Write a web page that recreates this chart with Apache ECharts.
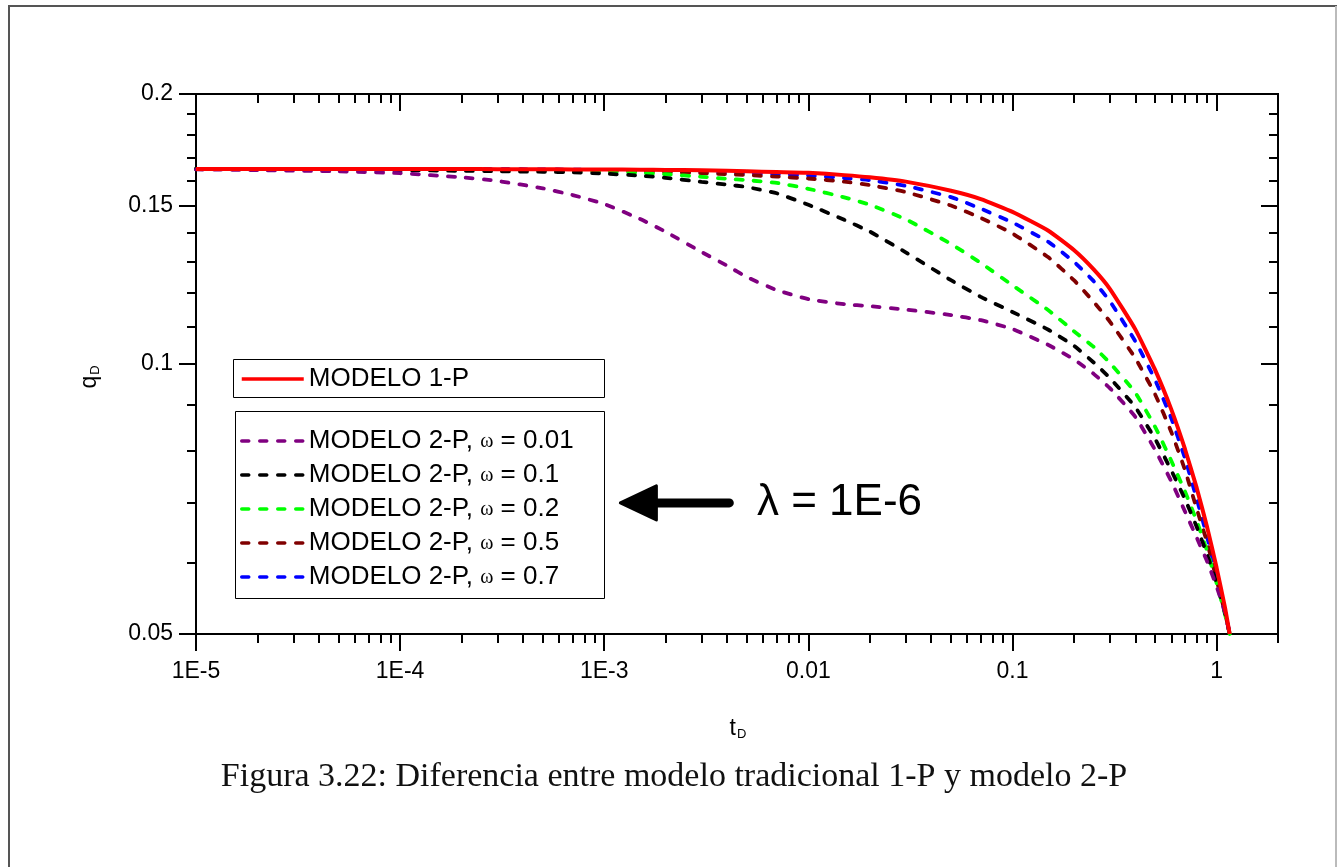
<!DOCTYPE html>
<html>
<head>
<meta charset="utf-8">
<script src="https://cdn.jsdelivr.net/npm/echarts@6/dist/echarts.min.js"></script>
<style>
html,body{margin:0;padding:0;background:#fff;overflow:hidden}
#c{width:1338px;height:867px}
</style>
</head>
<body>
<div id="c"></div>
<script>
// ---------------- data ----------------
const tValues = [1e-5, 2e-5, 5e-5, 1e-4, 2e-4, 3e-4, 5e-4, 7e-4, 1e-3, 1.5e-3, 2e-3, 3e-3, 4e-3, 5e-3, 7e-3,
  0.01, 0.015, 0.02, 0.03, 0.05, 0.07, 0.1, 0.15, 0.2, 0.25, 0.3, 0.4, 0.5, 0.6, 0.7, 0.8, 0.9, 1.0, 1.1, 1.16];

const qModelo1P = [0.1650, 0.1650, 0.1650, 0.1650, 0.1650, 0.1649, 0.1649, 0.1648, 0.1648, 0.1647, 0.1646, 0.1644, 0.1642, 0.1640, 0.1637,
  0.1634, 0.1624, 0.1615, 0.1597, 0.1560, 0.1527, 0.1478, 0.1408, 0.1340, 0.1275, 0.1213, 0.1093, 0.0985, 0.0890, 0.0804, 0.0727, 0.0657, 0.0593, 0.0535, 0.0500];

const qOmega001 = [0.1648, 0.1645, 0.1640, 0.1632, 0.1615, 0.1600, 0.1570, 0.1543, 0.1508, 0.1451, 0.1404, 0.1333, 0.1287, 0.1250, 0.1209,
  0.1181, 0.1166, 0.1160, 0.1150, 0.1134, 0.1119, 0.1094, 0.1050, 0.1012, 0.0975, 0.0940, 0.0873, 0.0802, 0.0740, 0.0685, 0.0640, 0.0602, 0.0565, 0.0528, 0.0500];

const qOmega01 = [0.1650, 0.1649, 0.1647, 0.1645, 0.1642, 0.1640, 0.1638, 0.1636, 0.1630, 0.1622, 0.1613, 0.1596, 0.1585, 0.1575, 0.1550,
  0.1505, 0.1448, 0.1405, 0.1332, 0.1240, 0.1188, 0.1143, 0.1092, 0.1048, 0.1004, 0.0965, 0.0895, 0.0825, 0.0761, 0.0707, 0.0658, 0.0613, 0.0570, 0.0528, 0.0500];

const qOmega02 = [0.1650, 0.1650, 0.1649, 0.1648, 0.1647, 0.1646, 0.1644, 0.1642, 0.1639, 0.1633, 0.1628, 0.1617, 0.1609, 0.1603, 0.1592,
  0.1568, 0.1534, 0.1505, 0.1450, 0.1361, 0.1296, 0.1224, 0.1148, 0.1088, 0.1045, 0.1003, 0.0929, 0.0851, 0.0780, 0.0721, 0.0668, 0.0618, 0.0570, 0.0526, 0.0500];

const qOmega05 = [0.1650, 0.1650, 0.1650, 0.1649, 0.1648, 0.1647, 0.1646, 0.1645, 0.1643, 0.1640, 0.1637, 0.1632, 0.1628, 0.1624, 0.1618,
  0.1610, 0.1597, 0.1583, 0.1555, 0.1502, 0.1455, 0.1398, 0.1315, 0.1240, 0.1173, 0.1115, 0.1015, 0.0925, 0.0840, 0.0762, 0.0689, 0.0632, 0.0575, 0.0528, 0.0500];

const qOmega07 = [0.1650, 0.1650, 0.1650, 0.1650, 0.1649, 0.1649, 0.1648, 0.1647, 0.1646, 0.1644, 0.1642, 0.1638, 0.1635, 0.1632, 0.1628,
  0.1623, 0.1612, 0.1603, 0.1580, 0.1535, 0.1490, 0.1438, 0.1368, 0.1300, 0.1237, 0.1175, 0.1060, 0.0960, 0.0870, 0.0785, 0.0707, 0.0641, 0.0582, 0.0530, 0.0500];

const seriesNames = ['MODELO 1-P', 'MODELO 2-P, ω = 0.01', 'MODELO 2-P, ω = 0.1', 'MODELO 2-P, ω = 0.2', 'MODELO 2-P, ω = 0.5', 'MODELO 2-P, ω = 0.7'];

const xRange = [1e-5, 2];
const yRange = [0.05, 0.2];
const xTickValues = [1e-5, 1e-4, 1e-3, 0.01, 0.1, 1];
const xTickLabels = ['1E-5', '1E-4', '1E-3', '0.01', '0.1', '1'];
const xMinorTicks = [2e-5,3e-5,4e-5,5e-5,6e-5,7e-5,8e-5,9e-5, 2e-4,3e-4,4e-4,5e-4,6e-4,7e-4,8e-4,9e-4,
  2e-3,3e-3,4e-3,5e-3,6e-3,7e-3,8e-3,9e-3, 0.02,0.03,0.04,0.05,0.06,0.07,0.08,0.09, 0.2,0.3,0.4,0.5,0.6,0.7,0.8,0.9, 2];
const yTickValues = [0.05, 0.1, 0.15, 0.2];
const yTickLabels = ['0.05', '0.1', '0.15', '0.2'];
const yMinorTicks = [0.06, 0.07, 0.08, 0.09, 0.11, 0.12, 0.13, 0.14, 0.16, 0.17, 0.18, 0.19];

const xTitle = ['t', 'D'];
const yTitle = ['q', 'D'];
const annotationText = 'λ = 1E-6';
const captionText = 'Figura 3.22: Diferencia entre modelo tradicional 1-P y modelo 2-P';
// annotation anchor points in data space [t, q]
const arrowTip = [0.0012, 0.0700];
const arrowTail = [0.0041, 0.0700];
const annotationAt = [0.0056, 0.0700];

// ---------------- chart ----------------
const L = Math.log10;
const FONT = "'Liberation Sans', Arial, sans-serif";

function findLabel(vals, labels, v) {
  for (let i = 0; i < vals.length; i++) if (Math.abs(L(vals[i]) - v) < 1e-6) return labels[i];
  return '';
}

function makeAxis(dim, position, ticks, tickLen, inside, labelCfg) {
  const range = dim === 'x' ? xRange : yRange;
  return {
    type: 'value', gridIndex: 0, position: position,
    min: L(range[0]), max: L(range[1]),
    axisLine: { show: true, onZero: false, lineStyle: { color: '#000', width: 2 } },
    axisTick: { show: true, inside: inside, length: tickLen, customValues: ticks.map(L),
      lineStyle: { color: '#000', width: 2 } },
    axisLabel: labelCfg || { show: false },
    splitLine: { show: false }, minorTick: { show: false }, minorSplitLine: { show: false },
    axisPointer: { show: false }, silent: true
  };
}

const xAxes = [
  makeAxis('x', 'bottom', xTickValues, 17, false, {
    show: true, customValues: xTickValues.map(L), margin: 26,
    formatter: v => findLabel(xTickValues, xTickLabels, v),
    fontSize: 23, fontFamily: FONT, color: '#000'
  }),
  makeAxis('x', 'bottom', xMinorTicks, 9, false),
  makeAxis('x', 'top', xTickValues, 17, true),
  makeAxis('x', 'top', xMinorTicks, 9, true)
];

const yAxes = [
  makeAxis('y', 'left', yTickValues, 17, false, {
    show: true, customValues: yTickValues.map(L), margin: 23,
    formatter: v => findLabel(yTickValues, yTickLabels, v),
    fontSize: 23, fontFamily: FONT, color: '#000'
  }),
  makeAxis('y', 'left', yMinorTicks, 9, false),
  makeAxis('y', 'right', yTickValues, 17, true),
  makeAxis('y', 'right', yMinorTicks, 9, true)
];

function lineSeries(name, values, color, dashed) {
  return {
    type: 'line', name: name, xAxisIndex: 0, yAxisIndex: 0,
    data: tValues.map((t, i) => [L(t), L(values[i])]),
    symbol: 'none', smooth: 0.15,
    lineStyle: dashed
      ? { color: color, width: 3.8, type: [7, 11], cap: 'round' }
      : { color: color, width: 4 },
    itemStyle: { color: color },
    silent: true
  };
}

const series = [
  lineSeries(seriesNames[5], qOmega07, '#0000ff', true),
  lineSeries(seriesNames[4], qOmega05, '#800000', true),
  lineSeries(seriesNames[3], qOmega02, '#00ff00', true),
  lineSeries(seriesNames[2], qOmega01, '#000000', true),
  lineSeries(seriesNames[1], qOmega001, '#800080', true),
  lineSeries(seriesNames[0], qModelo1P, '#ff0000', false)
];

const legendText = {
  fontSize: 26, lineHeight: 24, fontFamily: FONT, color: '#000',
  rich: { w: { fontSize: 20, lineHeight: 20, fontFamily: "'Liberation Serif', serif", color: '#000', verticalAlign: 'bottom', padding: [0, 0, 1, 0] } }
};

const option = {
  animation: false,
  backgroundColor: '#fff',
  grid: { left: 196, top: 94, right: 60, bottom: 233, containLabel: false },
  xAxis: xAxes,
  yAxis: yAxes,
  legend: [
    { data: [seriesNames[0]], orient: 'vertical', left: 240, top: 366, padding: 0, itemGap: 8,
      itemWidth: 62, itemHeight: 14, itemTextGap: 6, selectedMode: false, textStyle: legendText,
      itemStyle: { opacity: 0 }, lineStyle: { width: 3.5 } },
    { data: seriesNames.slice(1), orient: 'vertical', left: 240, top: 428, padding: 0, itemGap: 8,
      itemWidth: 62, itemHeight: 14, itemTextGap: 6, selectedMode: false, textStyle: legendText,
      itemStyle: { opacity: 0 }, lineStyle: { width: 3.5 },
      formatter: n => n.replace('ω', '{w|ω}') }
  ],
  series: series
};

const chart = echarts.init(document.getElementById('c'), null, { renderer: 'canvas' });
chart.setOption(option);

const px = v => chart.convertToPixel({ seriesIndex: 0 }, [L(v[0]), L(v[1])]);
const tip = px(arrowTip), tail = px(arrowTail), ann = px(annotationAt);
// axis-title anchors: middle of each axis in data space
const xMidPx = px([Math.sqrt(xRange[0] * xRange[1]), yRange[0]]);
const yMidPx = px([xRange[0], Math.sqrt(yRange[0] * yRange[1])]);
const headLen = 36, headHalf = 17;

const MAINFONT = "23px 'Liberation Sans', Arial, sans-serif";
const SUBFONT = "13px 'Liberation Sans', Arial, sans-serif";
const titleStyle = (txt) => ({
  text: '{a|' + txt[0] + '}{b|' + txt[1] + '}', font: MAINFONT, fill: '#000',
  align: 'center', verticalAlign: 'middle',
  rich: {
    a: { font: MAINFONT, fill: '#000', verticalAlign: 'top', lineHeight: 23 },
    b: { font: SUBFONT, fill: '#000', verticalAlign: 'bottom', lineHeight: 13, padding: [22, 0, 0, 1] }
  }
});

chart.setOption({
  graphic: [
    { type: 'rect', silent: true, z: 100, shape: { x: 9, y: 6, width: 1327, height: 900 },
      style: { fill: 'none', stroke: '#555', lineWidth: 2 } },
    { type: 'line', silent: true, z: 101, shape: { x1: 1336, y1: 6, x2: 1336, y2: 867 },
      style: { stroke: '#bbb', lineWidth: 2 } },
    { type: 'rect', silent: true, z: 100, shape: { x: 233.5, y: 359.5, width: 371, height: 38 },
      style: { fill: 'none', stroke: '#000', lineWidth: 1 } },
    { type: 'rect', silent: true, z: 100, shape: { x: 235.5, y: 411.5, width: 369, height: 187 },
      style: { fill: 'none', stroke: '#000', lineWidth: 1 } },
    { type: 'line', silent: true, z: 100,
      shape: { x1: tail[0], y1: tail[1], x2: tip[0] + headLen - 4, y2: tip[1] },
      style: { stroke: '#000', lineWidth: 9, lineCap: 'round' } },
    { type: 'polygon', silent: true, z: 100,
      shape: { points: [[tip[0], tip[1]], [tip[0] + headLen, tip[1] - headHalf], [tip[0] + headLen, tip[1] + headHalf]] },
      style: { fill: '#000', stroke: '#000', lineWidth: 3, lineJoin: 'round' } },
    { type: 'text', silent: true, z: 100, x: ann[0], y: ann[1],
      style: { text: annotationText, fontSize: 44, fontFamily: FONT, fill: '#000', align: 'left', verticalAlign: 'middle' } },
    { type: 'text', silent: true, z: 100, x: 738, y: xMidPx[1] + 95,
      style: titleStyle(xTitle) },
    { type: 'text', silent: true, z: 100, x: yMidPx[0] - 106, y: 377, rotation: Math.PI / 2,
      style: titleStyle(yTitle) },
    { type: 'text', silent: true, z: 100, x: 674, y: 777,
      style: { text: captionText, fontSize: 34, fontFamily: "'Liberation Serif', 'Times New Roman', serif", fill: '#111', align: 'center', verticalAlign: 'middle' } }
  ]
});
</script>
</body>
</html>
